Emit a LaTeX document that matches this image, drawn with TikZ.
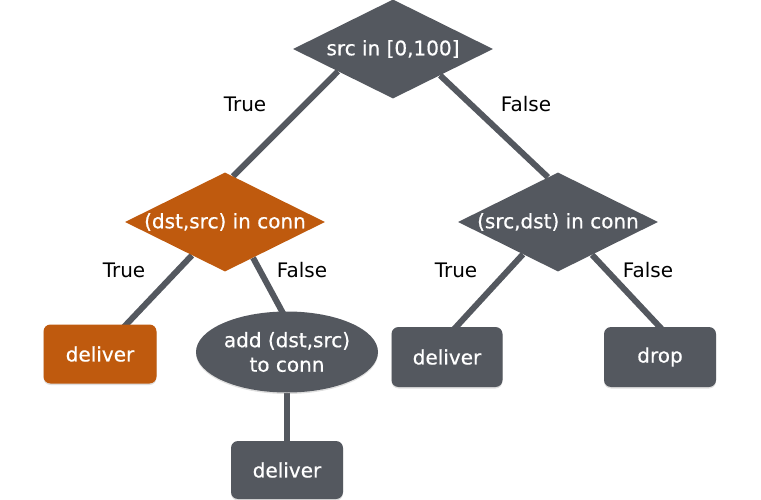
\documentclass[tikz,border=0pt]{standalone}
\usepackage{fontspec}
\setmainfont{DejaVu Sans}[BoldFont=DejaVu Sans, BoldFeatures={FakeBold=0.6}]
\usetikzlibrary{shapes.geometric,calc,backgrounds,shadows}
\definecolor{slate}{HTML}{54585F}
\definecolor{rust}{HTML}{BF5A0E}
\tikzset{
  dec/.style={diamond, fill=#1, draw=none, inner sep=0pt, minimum width=200pt, minimum height=99pt},
  dectext/.style={text=white, font=\fontsize{20}{24}\selectfont\bfseries},
  box/.style={rectangle, rounded corners=7pt, fill=#1, text=white, minimum width=112pt, minimum height=59pt, inner sep=0pt,
    font=\fontsize{20}{24}\selectfont\bfseries, drop shadow={shadow xshift=0pt, shadow yshift=-1.5pt, opacity=0.25}},
  oval/.style={ellipse, fill=slate, text=white, minimum width=182pt, minimum height=81pt, inner sep=0pt, align=center,
    font=\fontsize{20}{24.5}\selectfont\bfseries, drop shadow={shadow xshift=0pt, shadow yshift=-1.5pt, opacity=0.25}},
  lbl/.style={text=black, font=\fontsize{20}{24}\selectfont},
  link/.style={draw=slate, line width=6pt}
}
\begin{document}
\begin{tikzpicture}[x=1pt,y=-1pt]
\useasboundingbox (0,0) rectangle (761,500);
\node[dec=slate, label={[dectext]center:src in [0,100]}] (top) at (393,49) {};
\node[dec=rust, label={[dectext]center:(dst,src) in conn}] (L) at (225,222) {};
\node[dec=slate, label={[dectext]center:(src,dst) in conn}] (R) at (558,222) {};
\node[box=rust, minimum width=113pt] (LL) at (100,354) {deliver};
\node[oval] (LR) at (287,352) {add (dst,src)\\to conn};
\node[box=slate, minimum height=58pt] (LRB) at (287,470) {deliver};
\node[box=slate, minimum width=111pt, minimum height=60pt] (RL) at (447,357) {deliver};
\node[box=slate, minimum height=60pt] (RR) at (660,357) {drop};
\node[lbl] (t1) at (245,104) {True};
\node[lbl] (f1) at (526,104) {False};
\node[lbl] (t2) at (124,270) {True};
\node[lbl] (f2) at (302,270) {False};
\node[lbl] (t3) at (456,270) {True};
\node[lbl] (f3) at (648,270) {False};
\begin{pgfonlayer}{background}
\draw[link] ($(top.south)!0.55!(top.west)$) -- ($(L.north)!0.08!(L.east)$);
\draw[link] ($(top.south)!0.47!(top.east)$) -- ($(R.north)!0.1!(R.west)$);
\draw[link] ($(L.south)!0.33!(L.west)$) -- ($(LL.north west)!0.7!(LL.north east)+(0,4)$);
\draw[link] ($(L.south)!0.28!(L.east)$) -- ($(LR.94)+(0,4)$);
\draw[link] (LR.south) -- (LRB.north);
\draw[link] ($(R.south)!0.35!(R.west)$) -- ($(RL.north west)!0.55!(RL.north east)+(0,4)$);
\draw[link] ($(R.south)!0.34!(R.east)$) -- ($(RR.north west)!0.53!(RR.north east)+(0,4)$);
\end{pgfonlayer}
\end{tikzpicture}
\end{document}
